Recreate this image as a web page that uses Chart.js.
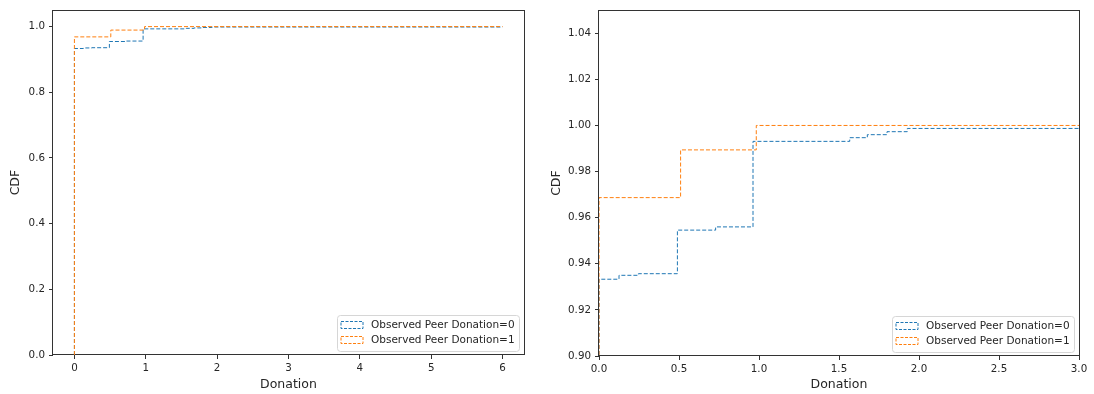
<!DOCTYPE html>
<html>
<head>
<meta charset="utf-8">
<script src="https://cdn.jsdelivr.net/npm/chart.js@4"></script>
<style>
  body { margin: 0; background: #fff; }
  canvas { position: absolute; top: 0; }
  #left { left: 0; }
  #right { left: 547px; }
</style>
</head>
<body>
<canvas id="left" width="547" height="394"></canvas>
<canvas id="right" width="547" height="394"></canvas>
<script>
// step points of the empirical CDFs (value holds until the next x)
const labels = ['Observed Peer Donation=0', 'Observed Peer Donation=1'];
const donationX0 = [0, 0, 0.125, 0.246, 0.49, 0.729, 0.9625, 1.567, 1.677, 1.80, 1.927, 6];
const cdf0 = [0, 0.9333, 0.935, 0.9357, 0.9546, 0.956, 0.9931, 0.9947, 0.996, 0.9973, 0.9987, 0.9987];
const donationX1 = [0, 0, 0.51, 0.983, 6];
const cdf1 = [0, 0.9687, 0.9894, 1.0, 1.0];
const colors = ['#1f77b4', '#ff7f0e'];

const leftXTicks = [0, 1, 2, 3, 4, 5, 6];
const leftYTicks = [0, 0.2, 0.4, 0.6, 0.8, 1.0];
const rightXTicks = [0, 0.5, 1.0, 1.5, 2.0, 2.5, 3.0];
const rightYTicks = [0.90, 0.92, 0.94, 0.96, 0.98, 1.00, 1.02, 1.04];

const font = '"DejaVu Sans", sans-serif';
const axisColor = '#333';

const toPoints = (xs, ys) => xs.map((x, i) => ({ x: x, y: ys[i] }));

const frame = {
  id: 'frame',
  beforeDatasetsDraw(chart) {
    const { ctx, chartArea: a } = chart;
    ctx.save();
    ctx.strokeStyle = axisColor;
    ctx.lineWidth = 1;
    ctx.strokeRect(Math.round(a.left) - 0.5, Math.round(a.top) + 0.5,
      Math.round(a.right - a.left) + 1, Math.round(a.bottom - a.top) - 1);
    ctx.restore();
  }
};

const legendBox = {
  id: 'legendBox',
  afterDatasetsDraw(chart) {
    const { ctx, chartArea: a } = chart;
    ctx.save();
    ctx.font = '10.5px ' + font;
    const ds = chart.data.datasets;
    const textW = Math.max(...ds.map(d => ctx.measureText(d.label).width));
    const w = Math.round(34 + textW + 4), h = 36;
    const x = Math.round(a.right - 5 - w) + 0.5, y = Math.round(a.bottom - 4 - h) + 0.5;
    ctx.beginPath();
    ctx.roundRect(x, y, w, h, 3);
    ctx.fillStyle = 'rgba(255,255,255,0.8)';
    ctx.fill();
    ctx.strokeStyle = '#d6d6d6';
    ctx.lineWidth = 1;
    ctx.stroke();
    ds.forEach((d, i) => {
      const cy = y + 9 + i * 15;
      ctx.setLineDash([3, 1.5]);
      ctx.strokeStyle = d.borderColor;
      ctx.strokeRect(x + 3.5, Math.round(cy - 3.5) + 0.5, 22, 7);
      ctx.setLineDash([]);
      ctx.fillStyle = '#262626';
      ctx.textBaseline = 'middle';
      ctx.textAlign = 'left';
      ctx.fillText(d.label, x + 33.5, cy + 0.5);
    });
    ctx.restore();
  }
};

function makeChart(id, opts) {
  const datasets = [
    { label: labels[0], data: toPoints(donationX0, cdf0), borderColor: colors[0], order: 1 },
    { label: labels[1], data: toPoints(donationX1, cdf1), borderColor: colors[1], order: 0 }
  ].map(d => Object.assign(d, {
    stepped: 'before', borderWidth: 1, borderDash: [4, 2], pointRadius: 0, fill: false,
    backgroundColor: 'transparent'
  }));

  const tickStyle = { color: '#262626', font: { family: font, size: 10.3 } };
  const gridStyle = { drawOnChartArea: false, drawTicks: true, tickLength: 4, color: axisColor };

  return new Chart(document.getElementById(id), {
    type: 'line',
    data: { datasets },
    plugins: [frame, legendBox],
    options: {
      responsive: false,
      animation: false,
      layout: { padding: opts.padding },
      plugins: { legend: { display: false }, tooltip: { enabled: false } },
      scales: {
        x: {
          type: 'linear', min: opts.xMin, max: opts.xMax,
          afterBuildTicks: s => { s.ticks = opts.xTicks.map(v => ({ value: v })); },
          afterFit: s => { s.height = opts.xHeight; },
          ticks: Object.assign({ padding: 3, maxRotation: 0, autoSkip: false,
            callback: v => opts.xFmt(v) }, tickStyle),
          grid: gridStyle,
          border: { display: false },
          title: { display: true, text: 'Donation', color: '#262626',
            font: { family: font, size: 12.5 }, padding: { bottom: 2 } }
        },
        y: {
          type: 'linear', min: opts.yMin, max: opts.yMax,
          afterBuildTicks: s => { s.ticks = opts.yTicks.map(v => ({ value: v })); },
          afterFit: s => { s.width = opts.yWidth; },
          ticks: Object.assign({ padding: 4, autoSkip: false,
            callback: v => opts.yFmt(v) }, tickStyle),
          grid: gridStyle,
          border: { display: false },
          title: { display: true, text: 'CDF', color: '#262626',
            font: { family: font, size: 12.5 }, padding: { top: opts.yTitlePad } }
        }
      }
    }
  });
}

makeChart('left', {
  padding: { top: 10, right: 23, left: 0, bottom: 0 },
  xMin: -0.3, xMax: 6.3, yMin: 0, yMax: 1.05,
  xTicks: leftXTicks, yTicks: leftYTicks,
  xFmt: v => String(v), yFmt: v => v.toFixed(1),
  xHeight: 39, yWidth: 53, yTitlePad: 8
});

makeChart('right', {
  padding: { top: 7, right: 15, left: 0, bottom: 0 },
  xMin: 0, xMax: 3, yMin: 0.90, yMax: 1.05,
  xTicks: rightXTicks, yTicks: rightYTicks,
  xFmt: v => v.toFixed(1), yFmt: v => v.toFixed(2),
  xHeight: 38, yWidth: 52, yTitlePad: 2
});
</script>
</body>
</html>
